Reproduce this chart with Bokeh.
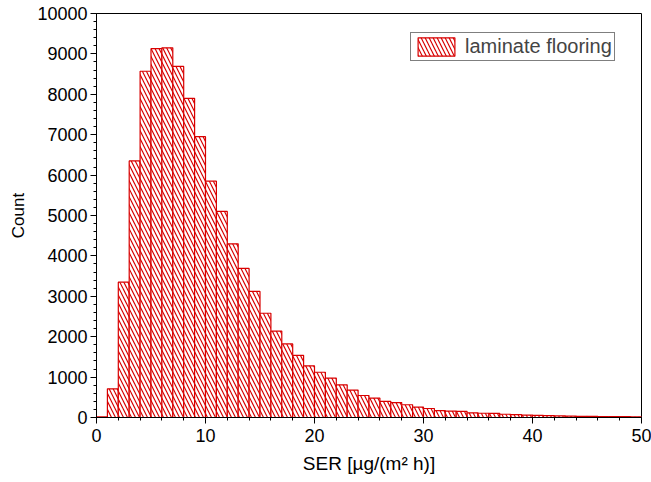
from bokeh.plotting import figure
from bokeh.models import Range1d, FixedTicker, Legend, LegendItem
from bokeh.embed import file_html
from bokeh.resources import INLINE

# Histogram data (bin width 1, SER in µg/(m² h))
bin_edges = list(range(0, 51))
counts = [15, 710, 3350, 6350, 8570, 9130, 9150, 8690, 7900, 6950,
          5850, 5100, 4300, 3690, 3120, 2580, 2140, 1820, 1540, 1280,
          1120, 975, 810, 680, 545, 480, 400, 370, 315, 257,
          223, 170, 160, 150, 115, 105, 100, 80, 70, 60,
          55, 45, 40, 35, 30, 28, 25, 22, 20, 18]
series_name = "laminate flooring"
x_ticks = [0, 10, 20, 30, 40, 50]
y_ticks = list(range(0, 10001, 1000))

RED = "#d80000"
FONT = "Liberation Sans"

p = figure(width=651, height=482, output_backend="svg", toolbar_location=None,
           x_range=Range1d(0, 50), y_range=Range1d(0, 10000))
p.min_border_left = 96
p.min_border_right = 10
p.min_border_top = 13
p.min_border_bottom = 65
p.outline_line_color = "black"
p.outline_line_width = 1
p.grid.visible = False
p.background_fill_color = "white"
p.border_fill_color = "white"

r = p.quad(left=bin_edges[:-1], right=bin_edges[1:], top=counts, bottom=0,
           fill_color="white", line_color=RED, line_width=1.2,
           hatch_pattern="\\", hatch_color=RED, hatch_scale=8, hatch_weight=1.2)

for ax in (p.xaxis[0], p.yaxis[0]):
    ax.axis_line_color = "black"
    ax.major_tick_line_color = "black"
    ax.minor_tick_line_color = "black"
    ax.major_tick_out = 6
    ax.major_tick_in = 0
    ax.minor_tick_out = 3
    ax.minor_tick_in = 0
    ax.major_label_text_font = FONT
    ax.major_label_text_font_size = "18px"
    ax.major_label_text_color = "black"
    ax.axis_label_text_font = FONT
    ax.axis_label_text_font_style = "normal"
    ax.axis_label_text_color = "black"

p.xaxis[0].ticker = FixedTicker(ticks=x_ticks, minor_ticks=list(range(0, 51, 2)))
p.yaxis[0].ticker = FixedTicker(ticks=y_ticks, minor_ticks=list(range(0, 10001, 200)))
p.xaxis[0].axis_label = "SER [µg/(m² h)]"
p.yaxis[0].axis_label = "Count"
p.xaxis[0].axis_label_text_font_size = "19px"
p.yaxis[0].axis_label_text_font_size = "17px"
p.xaxis[0].major_label_standoff = 5
p.yaxis[0].major_label_standoff = 3
p.xaxis[0].axis_label_standoff = 8
p.yaxis[0].axis_label_standoff = 6

legend = Legend(items=[LegendItem(label=series_name, renderers=[r])],
                location=(314, 356), margin=0, padding=2,
                glyph_width=46, glyph_height=23, label_standoff=6,
                label_text_font=FONT, label_text_font_size="20px",
                border_line_color="black", border_line_width=1,
                background_fill_alpha=1)
p.add_layout(legend, "center")

open("out.html", "w").write(file_html(p, INLINE))
